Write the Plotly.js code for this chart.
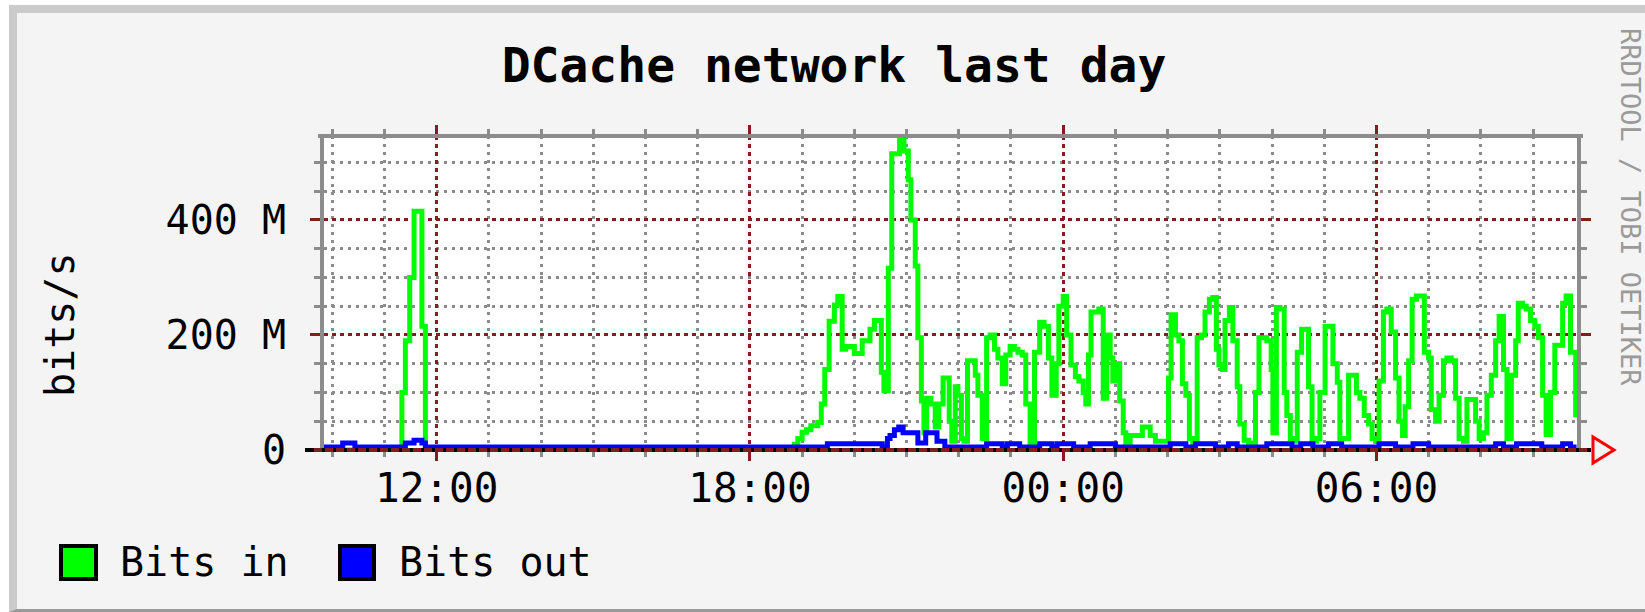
<!DOCTYPE html>
<html>
<head>
<meta charset="utf-8">
<script src="https://cdn.plot.ly/plotly-3.0.1.min.js"></script>
<style>
  html, body { margin: 0; padding: 0; background: #ffffff; }
  #frame { position: absolute; left: 9px; top: 5px; width: 1636px; height: 607px; box-sizing: border-box;
           background: #f4f4f4; border-top: 8px solid #cbcbcb; border-left: 8px solid #cbcbcb; border-bottom: 3px solid #999999; }
  #chart { position: absolute; left: 0; top: 0; width: 1645px; height: 612px; }
</style>
</head>
<body>
<div id="frame"></div>
<div id="chart"></div>
<script>
// ---- data (time = minutes after midnight of the first day, values in Mbit/s) ----
const inMinutes = [
  590.5, 675, 680, 684, 689, 694, 698, 703, 707,
  1131, 1135, 1140, 1145, 1150, 1155, 1158, 1162, 1166, 1171, 1177, 1181, 1186, 1190, 1195, 1200,
  1204, 1209, 1213, 1218, 1223, 1227, 1231, 1234, 1239, 1243, 1248, 1252, 1257, 1262, 1265, 1270,
  1273, 1277, 1280, 1283, 1288, 1293, 1297, 1302, 1306, 1309, 1312, 1316, 1319, 1323, 1326, 1330,
  1334, 1339, 1342, 1347, 1352, 1356, 1361, 1365, 1370, 1374, 1379, 1384, 1388, 1393, 1397, 1402,
  1407, 1410, 1413, 1418, 1423, 1427, 1432, 1435, 1440, 1444, 1449, 1454, 1458, 1463, 1466, 1469,
  1472, 1477, 1481, 1486, 1490, 1494, 1497, 1502, 1505, 1509, 1512, 1517, 1524, 1531, 1535, 1540,
  1546, 1557, 1561, 1564, 1569, 1573, 1577, 1581, 1585, 1589, 1594, 1599, 1603, 1608, 1612, 1616,
  1619, 1623, 1626, 1631, 1635, 1640, 1643, 1648, 1653, 1656, 1661, 1665, 1670, 1674, 1679, 1681,
  1685, 1689, 1694, 1697, 1701, 1704, 1709, 1714, 1718, 1722, 1726, 1731, 1735, 1741, 1746, 1750,
  1755, 1758, 1763, 1768, 1772, 1777, 1781, 1786, 1791, 1795, 1799, 1803, 1808, 1812, 1817, 1822,
  1826, 1830, 1833, 1837, 1841, 1846, 1850, 1855, 1860, 1863, 1868, 1872, 1877, 1881, 1886, 1891,
  1895, 1900, 1904, 1909, 1914, 1918, 1923, 1927, 1932, 1937, 1941, 1946, 1950, 1955, 1960, 1963,
  1968, 1972, 1977, 1982, 1986, 1991, 1995, 2000, 2005, 2009, 2014, 2018, 2023, 2029
];
const inMbps = [
  0, 0, 100, 190, 300, 415, 415, 215, 0,
  10, 20, 31, 35, 42, 42, 48, 80, 140, 224, 252, 267, 175, 180, 180, 168,
  168, 190, 190, 210, 225, 225, 135, 103, 316, 515, 515, 550, 520, 470, 400, 320,
  195, 85, 30, 90, 80, 40, 80, 125, 125, 50, 15, 110, 95, 20, 15, 155,
  155, 130, 95, 20, 195, 200, 175, 160, 115, 165, 180, 175, 170, 165, 80, 12,
  170, 170, 222, 215, 160, 95, 150, 250, 267, 200, 148, 128, 120, 100, 80, 165,
  240, 240, 245, 90, 200, 160, 120, 150, 85, 30, 10, 25, 25, 40, 40, 25,
  15, 15, 125, 235, 200, 190, 115, 95, 20, 12, 195, 200, 240, 262, 265, 175,
  148, 140, 225, 248, 190, 110, 45, 17, 12, 10, 100, 195, 195, 190, 140, 30,
  248, 245, 100, 60, 20, 15, 170, 210, 210, 110, 15, 20, 100, 215, 215, 150,
  118, 20, 20, 130, 130, 100, 90, 60, 45, 20, 15, 120, 240, 245, 205, 125,
  50, 25, 75, 155, 262, 268, 268, 170, 160, 70, 50, 95, 155, 160, 155, 90,
  20, 15, 88, 88, 50, 20, 30, 95, 130, 190, 232, 140, 20, 130, 190, 255,
  250, 245, 225, 215, 195, 95, 27, 100, 182, 182, 255, 268, 170, 57
];
const outMinutes = [
  590.5, 612, 626, 684, 694, 703, 707, 1169, 1232, 1238, 1241, 1246, 1251, 1256, 1270, 1273,
  1282, 1295, 1304, 1352, 1370, 1376, 1390, 1413, 1427, 1433, 1452, 1471, 1500, 1563, 1581, 1592,
  1615, 1630, 1640, 1674, 1703, 1713, 1727, 1745, 1760, 1803, 1822, 1842, 1860, 1937, 1946, 1961,
  1990, 2014, 2023, 2030
];
const outMbps = [
  5, 12, 5, 12, 17, 12, 5, 11, 5, 20, 25, 35, 40, 30, 30, 12,
  30, 15, 5, 11, 5, 11, 5, 11, 5, 11, 5, 11, 5, 11, 5, 11,
  5, 11, 5, 11, 5, 11, 5, 11, 5, 11, 5, 11, 5, 11, 5, 11,
  5, 11, 5, 5
];
const seriesNames = ['Bits in', 'Bits out'];
const xTickMinutes = [720, 1080, 1440, 1800];
const xTickLabels = ['12:00', '18:00', '00:00', '06:00'];
const yTickValues = [0, 200, 400];
const yTickLabels = ['0', '200 M', '400 M'];
const chartTitle = 'DCache network last day';
const yTitle = 'bits/s';
const sideText = 'RRDTOOL / TOBI OETIKER';

// ---- geometry helpers (pixel -> paper) ----
const L = 324, R = 1577, T = 136, B = 450;
const PW = R - L, PH = B - T;
const px = x => (x - L) / PW;
const py = y => (B - y) / PH;
const FONT = 'DejaVu Sans Mono, monospace';
const MGRID = '#821e1e', GRID = '#8c8c8c';

const traces = [
  { x: inMinutes, y: inMbps, type: 'scatter', mode: 'lines', name: seriesNames[0],
    line: { color: '#00ff00', width: 5, shape: 'hv' }, hoverinfo: 'skip' },
  { x: outMinutes, y: outMbps, type: 'scatter', mode: 'lines', name: seriesNames[1],
    line: { color: '#0000ff', width: 5, shape: 'hv' }, hoverinfo: 'skip' }
];

const layout = {
  width: 1645, height: 612,
  margin: { l: L, r: 1645 - R, t: T, b: 612 - B, pad: 0 },
  paper_bgcolor: 'rgba(0,0,0,0)',
  plot_bgcolor: '#ffffff',
  showlegend: false,
  title: { text: chartTitle, font: { family: FONT, size: 48, color: '#000', weight: 'bold' },
           xref: 'container', yref: 'container', x: 834 / 1645, y: 1 - 65 / 612,
           xanchor: 'center', yanchor: 'middle' },
  xaxis: {
    range: [590.5, 2030.5], tickmode: 'array', tickvals: xTickMinutes, ticktext: xTickLabels,
    ticks: 'outside', ticklen: 10, tickwidth: 3, tickcolor: MGRID, mirror: 'allticks',
    showline: false, zeroline: false,
    showgrid: true, gridcolor: MGRID, gridwidth: 3, griddash: '4px,4px',
    tickfont: { family: FONT, size: 41, color: '#000' }, ticklabelstandoff: -8,
    minor: { tickmode: 'linear', tick0: 0, dtick: 60, ticks: 'outside', ticklen: 6, tickwidth: 3,
             tickcolor: GRID, showgrid: true, gridcolor: GRID, gridwidth: 3, griddash: '3px,5px' },
    fixedrange: true
  },
  yaxis: {
    range: [0, 546], tickmode: 'array', tickvals: yTickValues, ticktext: yTickLabels,
    ticks: 'outside', ticklen: 10, tickwidth: 3, tickcolor: MGRID, mirror: 'allticks',
    showline: true, linecolor: GRID, linewidth: 4, zeroline: false,
    showgrid: true, gridcolor: MGRID, gridwidth: 3, griddash: '4px,4px',
    tickfont: { family: FONT, size: 40, color: '#000' }, ticklabelstandoff: 16,
    minor: { tickmode: 'linear', tick0: 0, dtick: 50, ticks: 'outside', ticklen: 6, tickwidth: 3,
             tickcolor: GRID, showgrid: true, gridcolor: GRID, gridwidth: 3, griddash: '3px,5px' },
    fixedrange: true
  },
  shapes: [
    // top frame line
    { type: 'line', xref: 'paper', yref: 'paper', x0: px(318), x1: px(1583), y0: 1, y1: 1,
      line: { color: GRID, width: 4 }, layer: 'above' },
    // x axis baseline with arrow
    { type: 'line', xref: 'paper', yref: 'paper', x0: px(305), x1: px(1591), y0: 0, y1: 0,
      line: { color: '#000000', width: 4 }, layer: 'above' },
    { type: 'line', xref: 'paper', yref: 'paper', x0: px(314), x1: px(1587), y0: 0, y1: 0,
      line: { color: MGRID, width: 4, dash: '8px,3px' }, layer: 'above' },
    { type: 'path', xref: 'paper', yref: 'paper',
      path: `M ${px(1593)} ${py(437)} L ${px(1593)} ${py(463)} L ${px(1614)} ${py(450)} Z`,
      line: { color: '#ff0000', width: 3 }, fillcolor: 'rgba(0,0,0,0)', layer: 'above' },
    // legend boxes
    { type: 'rect', xref: 'paper', yref: 'paper', x0: px(61), x1: px(96), y0: py(546), y1: py(579),
      fillcolor: '#00ff00', line: { color: '#000000', width: 4 } },
    { type: 'rect', xref: 'paper', yref: 'paper', x0: px(340), x1: px(374), y0: py(546), y1: py(579),
      fillcolor: '#0000ff', line: { color: '#000000', width: 4 } }
  ],
  annotations: [
    { text: seriesNames[0], xref: 'paper', yref: 'paper', x: px(118), y: py(562),
      xanchor: 'left', yanchor: 'middle', showarrow: false, font: { family: FONT, size: 40, color: '#000' } },
    { text: seriesNames[1], xref: 'paper', yref: 'paper', x: px(397), y: py(562),
      xanchor: 'left', yanchor: 'middle', showarrow: false, font: { family: FONT, size: 40, color: '#000' } },
    { text: yTitle, xref: 'paper', yref: 'paper', x: px(60), y: py(325), textangle: -90,
      xanchor: 'center', yanchor: 'middle', showarrow: false, font: { family: FONT, size: 40, color: '#000' } },
    { text: sideText, xref: 'paper', yref: 'paper', x: px(1631), y: py(207), textangle: 90,
      xanchor: 'center', yanchor: 'middle', showarrow: false, font: { family: FONT, size: 27, color: '#9a9a9a' } }
  ]
};

Plotly.newPlot('chart', traces, layout, { staticPlot: true, displayModeBar: false });
</script>
</body>
</html>
